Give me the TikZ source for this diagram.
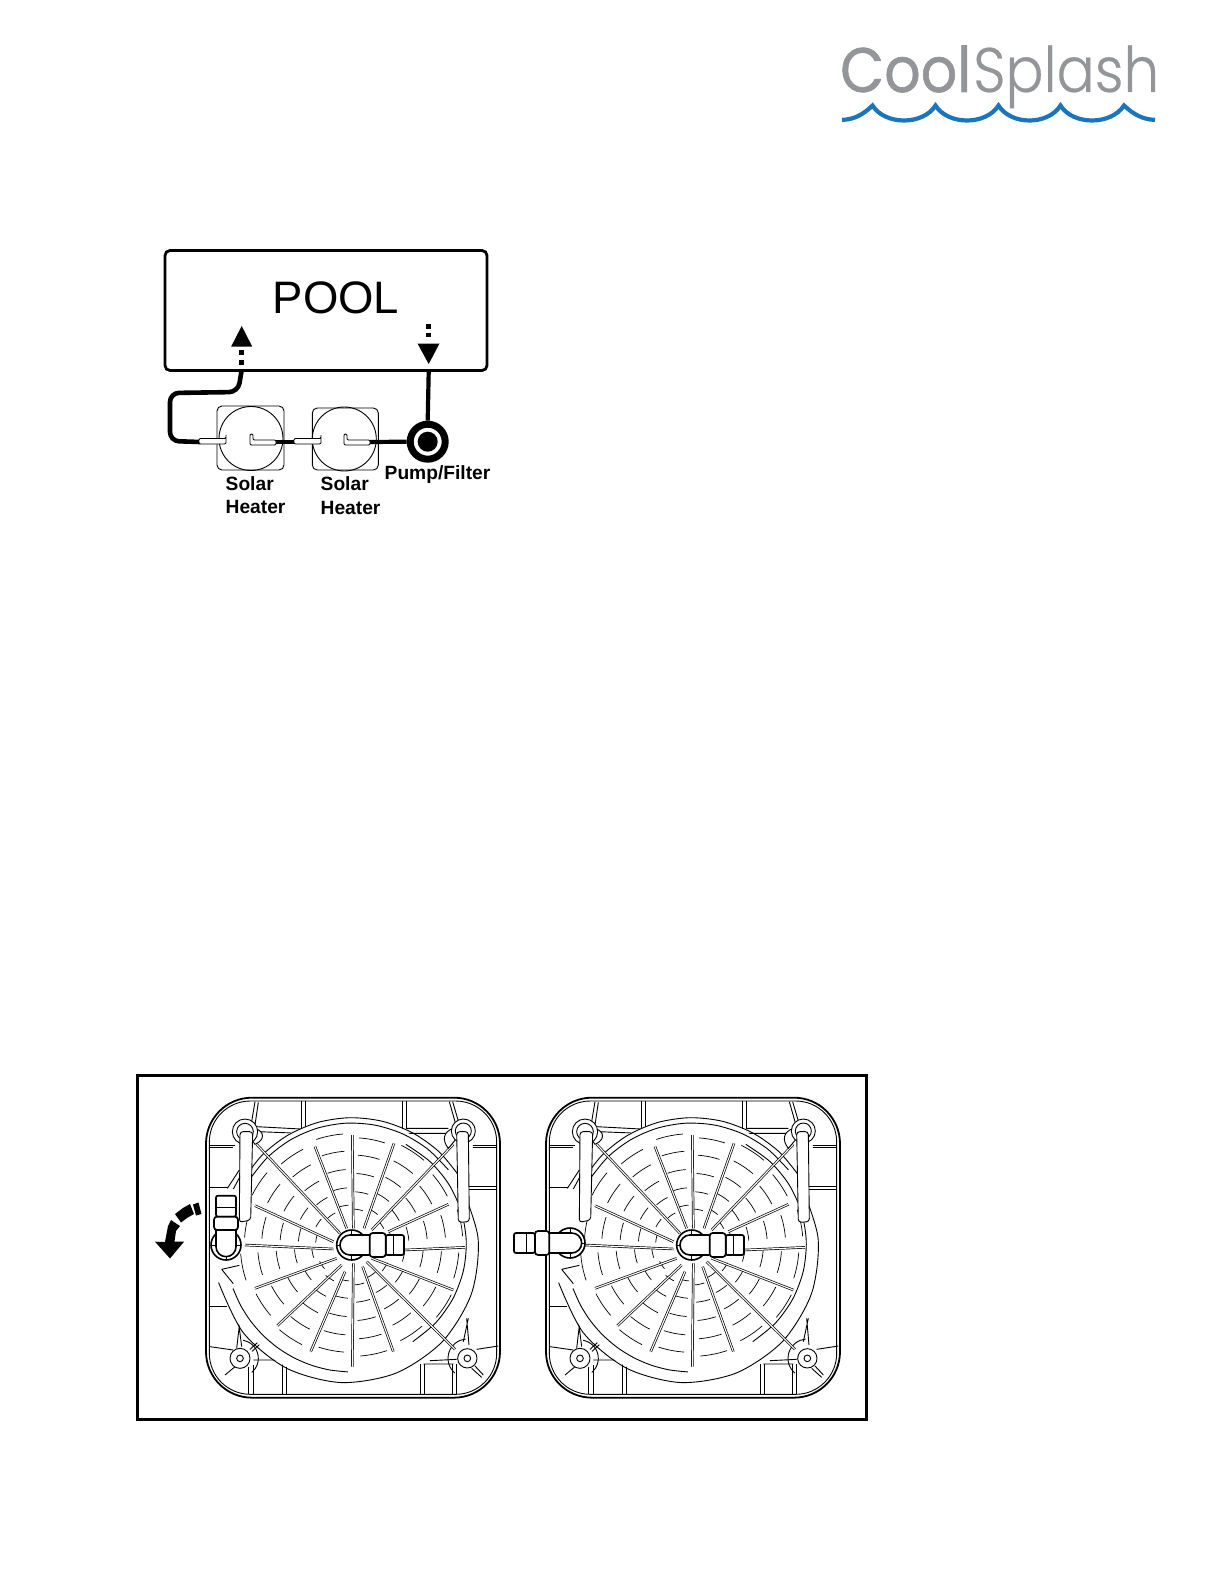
\documentclass[tikz,border=0pt]{standalone}
\usepackage{fontspec}
\setmainfont{Liberation Sans}
\newfontfamily\logofontb[FakeBold=0.9]{Poppins}
\newfontfamily\logofont[FakeBold=0.35]{Poppins Light}
\definecolor{logogray}{HTML}{939598}
\definecolor{logoblue}{HTML}{1B75BC}
\tikzset{
  thinl/.style={line width=0.9pt,black},
  thickl/.style={line width=1.6pt,black},
  spoke/.style={line width=0.7pt,double=white,double distance=1.1pt,black},
  wire/.style={line width=4.2pt,black},
  pipe/.style={line width=0.9pt,draw=black,fill=white,rounded corners=1.2pt},
  lbl/.style={font=\fontsize{19.2}{20}\selectfont\bfseries,inner sep=0pt,anchor=base west},
  dotsq/.style={fill=black,draw=none,minimum size=4.6pt,inner sep=0pt},
  heater/.style={draw,line width=0.9pt,rounded corners=5pt,inner sep=0pt},
}
\newcommand{\sarc}[5]{plot[smooth,domain=#4:#5,samples=9] ({#1+#3*cos(\x)},{#2+#3*sin(\x)})}
% fitting: origin at ball centre, pointing along +x; #4 collar start, #5 collar end, #6 tip end
\newcommand{\fitting}[6]{%
\begin{scope}[shift={(#1,#2)},rotate=#3]
  \pgfmathsetmacro{\tipmid}{#5+0.42*(#6-#5)}
  \draw[thickl,fill=white] (0,0) circle (45);
  \draw[thinl] (0,-45)--(0,45) (-45,0)--(0,0);
  \draw[thickl,fill=white] (#4,-30)--(-5,-30) arc[start angle=270,end angle=90,radius=30] --(#4,30);
  \draw[line width=1.7pt,fill=white,rounded corners=2pt] (#5,-30) rectangle (#6,30);
  \draw[thinl] (\tipmid,-30)--(\tipmid,30);
  \draw[line width=1.7pt,fill=white,rounded corners=3pt] (#4,-36) rectangle (#5,36);
\end{scope}}
\newcommand{\panel}[2]{%
\begin{scope}[shift={(#1,#2)},scale=1/3]
  % housing
  \draw[line width=1.8pt,fill=white] (48,38) [rounded corners=46pt] -- (930,38) -- (930,938) -- (48,938) -- cycle;
  \draw[thinl] (58,48) [rounded corners=41pt] -- (920,48) -- (920,928) -- (58,928) -- cycle;
  % top cells
  \draw[thinl] (333,48)--(333,132) (345,48)--(345,132) (638,48)--(638,132) (648,48)--(648,130);
  \draw[thinl] (195,50)--(185,110) (205,52)--(195,120) (200,125)--(333,132);
  \draw[thinl] (778,50)--(795,110) (788,50)--(805,108) (648,130)--(775,130);
  \draw[thinl] (205,140)--(335,145) (648,145)--(775,145);
  % left and right cells
  \draw[thinl] (60,180)--(135,180) (60,188)--(130,188) (60,308)--(115,308);
  \draw[thinl] (848,180)--(920,180) (848,188)--(920,188) (835,305)--(920,305) (835,312)--(920,312);
  \draw[thinl] (58,665)--(110,665);
  \draw[thinl] (60,785)--(130,795);
  \draw[thinl] (860,793)--(925,783);
  % bottom cells
  \draw[thinl] (175,845)--(175,926) (190,840)--(190,926) (278,825)--(278,926) (290,825)--(290,926);
  \draw[thinl] (690,837)--(690,926) (702,837)--(702,926) (788,837)--(788,926) (800,837)--(800,926);
  \draw[thinl] (190,825)--(278,825) (720,827)--(800,823) (700,837)--(790,837);
  \draw[thinl] (105,870)--(135,845) (845,850)--(875,877) (855,843)--(880,870);
  \draw[thinl] (145,705)--(155,785) (150,705)--(140,790);
  \draw[thinl] (830,700)--(837,780) (835,700)--(820,770);
  % bolt brackets
  \draw[thinl] \sarc{150}{820}{55}{-80}{50};
  \draw[thinl] \sarc{832}{820}{58}{130}{265};
  % disc
  \fill[white] (487,480) circle (375);
  \fill[white] (470,497) circle (392);
  \draw[thinl] \sarc{487}{480}{382}{-150}{-32};
  \draw[thinl] \sarc{487}{480}{366}{-148}{-38};
  \draw[thinl] \sarc{487}{480}{342}{-62}{58};
  \draw[thinl] \sarc{470}{497}{396}{-30}{166};
  \draw[thinl] \sarc{487}{480}{381}{92}{160};
  \draw[thinl] (95,553)--(148,541) (95,553)--(130,596);
  % concentric ribs
  \foreach \k in {0,...,15}{
    \pgfmathsetmacro{\aa}{\k*22.5+4}
    \pgfmathsetmacro{\ab}{\k*22.5+18}
    \pgfmathsetmacro{\stg}{mod(\k,2)==0 ? 0 : 12}
    \foreach \r in {108,160,215,270,322}{
      \pgfmathsetmacro{\rr}{\r+\stg}
      \draw[line width=0.7pt] \sarc{485}{480}{\rr}{\aa}{\ab};
    }
  }
  % spokes
  \foreach \xa/\ya/\xb/\yb in {487/150/490/430, 375/185/470/430, 200/178/450/445, 195/362/430/470,
    165/480/430/492, 195/610/440/520, 262/722/455/540, 362/800/465/560, 487/845/490/535,
    610/800/518/545, 795/793/530/530, 790/615/545/520, 825/487/645/495, 775/358/595/440,
    790/178/545/435, 612/175/522/430}
    \draw[spoke] (\xa,\ya)--(\xb,\yb);
  % bolts
  \draw[thinl,fill=white] (195,130) .. controls (225,140) and (225,165) .. (195,178) -- (175,150) -- cycle;
  \draw[thinl,fill=white] (790,130) .. controls (760,140) and (755,165) .. (775,190) -- (800,160) -- cycle;
  \draw[thinl,fill=white] (165,140) circle (38);
  \draw[thinl,fill=white] (165,140) circle (25);
  \draw[thinl,fill=white] (820,138) circle (36);
  \draw[thinl,fill=white] (820,138) circle (24);
  \draw[thinl,fill=white,rounded corners=3pt] (150,140)--(188,140)--(182,405)--(148,412)--cycle;
  \draw[thinl,fill=white,rounded corners=3pt] (800,140)--(835,140)--(838,410)--(805,412)--cycle;
  \draw[thinl] (148,255)--(112,310) (150,275)--(130,312);
  \draw[thinl,fill=white] (150,820) circle (30);
  \draw[thinl,fill=white] (150,820) circle (10);
  \draw[thinl,fill=white] (832,820) circle (29);
  \draw[thinl,fill=white] (832,820) circle (10);
  \draw[thinl] (180,793)--(202,773) (186,799)--(208,779);
\end{scope}}
\begin{document}
\begin{tikzpicture}[x=1pt,y=-1pt]
\useasboundingbox (0,0) rectangle (1224,1584);
% logo
\node[inner sep=0pt,anchor=base west,text=logogray] (logoa) at (840,92) {\resizebox{131pt}{46.5pt}{\logofontb Cool}};
\node[inner sep=0pt,anchor=base west,text=logogray] (logob) at (973,92) {\resizebox{186pt}{46.5pt}{\logofont Splash}};
\coordinate (w0) at (842,119.8);
\coordinate (w1) at (872.5,105.5);
\coordinate (w2) at (935.5,105.5);
\coordinate (w3) at (998.5,105.5);
\coordinate (w4) at (1060.5,105.5);
\coordinate (w5) at (1124,105.5);
\coordinate (w6) at (1155,119.8);
\draw[logoblue,line width=4.2pt,line join=miter,miter limit=10]
  (w0) .. controls (853,119.8) and (863,115) .. (w1)
  .. controls (885,125.5) and (923,125.5) .. (w2)
  .. controls (948,125.5) and (986,125.5) .. (w3)
  .. controls (1011,125.5) and (1048,125.5) .. (w4)
  .. controls (1073,125.5) and (1111,125.5) .. (w5)
  .. controls (1134,115) and (1144,119.8) .. (w6);
% pool
\node[draw,line width=2.8pt,rounded corners=5pt,minimum width=322pt,minimum height=120pt,inner sep=0pt] (pool) at (326,310.5) {};
\node[inner sep=0pt,font=\fontsize{45.5}{45}\selectfont] (pooltext) at (336,298) {POOL};
% up arrow
\coordinate (uptip) at (241.7,326);
\fill (uptip) -- (231.2,346.5) -- (252.2,346.5) -- cycle;
\node[dotsq] (ua) at (241.7,352.7) {};
\node[dotsq] (ub) at (241.7,362.7) {};
% down arrow
\coordinate (dntip) at (428.7,364);
\fill (dntip) -- (417.5,343.5) -- (439.5,343.5) -- cycle;
\node[dotsq] (da) at (428.7,326.7) {};
\node[dotsq] (db) at (428.7,335) {};
% heaters
\node[heater,minimum width=67pt,minimum height=64pt] (hA) at (250.5,438) {};
\node[heater,minimum width=66pt,minimum height=62pt] (hB) at (345.3,439) {};
\draw[line width=0.9pt] (251,438.5) circle (32);
\draw[line width=0.9pt] (344.3,439) circle (32);
% pump
\node[circle,draw,line width=7pt,minimum size=35pt,inner sep=0pt] (pump) at (427.7,441.7) {};
\fill (pump.center) circle (10);
% wires
\coordinate (pipeAin) at (200,442);
\coordinate (pipeAout) at (272,442);
\coordinate (pipeBin) at (295,442);
\coordinate (pipeBout) at (370,442);
\draw[wire] (pipeAout)--(pipeBin);
\draw[wire] (pipeBout)--(pump.west);
\draw[wire] (pool.south -| db) -- (pump.north);
\draw[wire,line width=4.6pt,rounded corners=9pt] (pipeAin) -- (170,441) -- (170,393) -- (238,392) -- (241.7,370);
% heater pipes
\draw[pipe] (199,438.5) -- (226,438.5) -- (226,434) -- (226,444) -- (199,444) -- cycle;
\draw[pipe] (294,438.5) -- (321,438.5) -- (321,434) -- (321,444) -- (294,444) -- cycle;
\draw[pipe] (250,434) -- (250,445) -- (276,445) -- (276,440) -- (253,440) -- (253,434) -- cycle;
\draw[pipe] (344,434) -- (344,445) -- (370,445) -- (370,440) -- (347,440) -- (347,434) -- cycle;
% labels
\node[lbl] (s1) at (225.5,490) {Solar};
\node[lbl] (h1) at (225.5,513) {Heater};
\node[lbl] (s2) at (320.5,490) {Solar};
\node[lbl] (h2) at (320.5,514) {Heater};
\node[lbl] (pf) at (384.5,479) {Pump/Filter};
% frame
\node[draw,line width=3.2pt,minimum width=729pt,minimum height=344pt,inner sep=0pt] (frame) at (502,1247.5) {};
% panels
\panel{190}{1085}
\panel{530}{1085}
\begin{scope}[shift={(190,1085)},scale=1/3]
  \fitting{108}{480}{90}{45}{85}{148}
  \fitting{485}{480}{0}{54}{102}{157}
\end{scope}
\begin{scope}[shift={(530,1085)},scale=1/3]
  \fitting{120}{474}{180}{62}{105}{168}
  \fitting{485}{480}{0}{54}{102}{157}
\end{scope}
% turning arrow
\fill (198.5,1202.5) -- (201.5,1214) -- (196,1215.5) -- (193,1204.5) -- cycle;
\fill (190,1204) -- (183,1208) -- (175,1214) -- (181,1222.5) -- (187,1218) -- (194,1214) -- cycle;
\fill (171,1220) -- (168,1226) -- (165,1242) -- (155,1241.7) -- (170,1258.5) -- (184,1241.7) -- (174.5,1241.7) -- (176,1231) -- (180,1226) -- cycle;
\end{tikzpicture}
\end{document}
